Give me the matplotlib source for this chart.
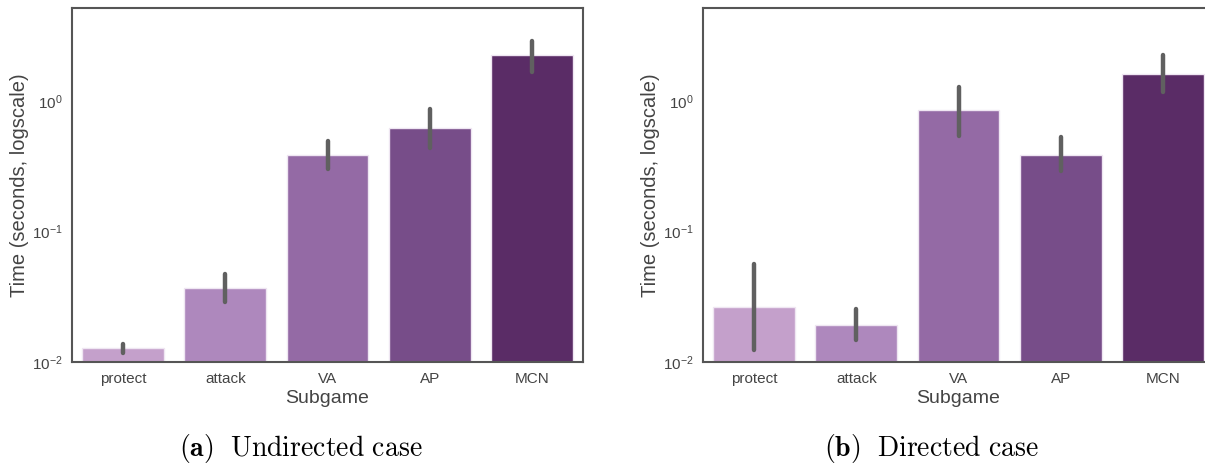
import matplotlib
matplotlib.use("Agg")
import matplotlib.pyplot as plt
import numpy as np

plt.rcParams["font.family"] = ["Liberation Sans", "DejaVu Sans"]
plt.rcParams["mathtext.fontset"] = "custom"
plt.rcParams["mathtext.rm"] = "Liberation Sans"
plt.rcParams["mathtext.it"] = "Liberation Sans:italic"
plt.rcParams["mathtext.bf"] = "Liberation Sans:bold"

subgames = ["protect", "attack", "VA", "AP", "MCN"]
colors = ["#c4a0cb", "#ae88bd", "#946aa5", "#774d89", "#5a2c66"]

# Mean solve times (seconds) with confidence interval bounds
undirected_mean = [0.0127, 0.037, 0.39, 0.62, 2.27]
undirected_lo = [0.0118, 0.029, 0.30, 0.44, 1.69]
undirected_hi = [0.0138, 0.0475, 0.50, 0.87, 2.91]

directed_mean = [0.0265, 0.0193, 0.86, 0.39, 1.62]
directed_lo = [0.0124, 0.0148, 0.54, 0.29, 1.17]
directed_hi = [0.056, 0.0256, 1.28, 0.53, 2.25]

captions = [("(a)", "Undirected case"), ("(b)", "Directed case")]

W, H = 1205, 465
fig = plt.figure(figsize=(W / 100, H / 100), dpi=100)

axes_px = [(72, 583), (703, 1214)]
top_px, bot_px = 8, 362

spine_col = "#555555"
text_col = "#444444"

panels = [(undirected_mean, undirected_lo, undirected_hi),
          (directed_mean, directed_lo, directed_hi)]

for (x0, x1), (mean, lo, hi) in zip(axes_px, panels):
    ax = fig.add_axes([x0 / W, (H - bot_px) / H, (x1 - x0) / W, (bot_px - top_px) / H])
    x = np.arange(len(subgames))
    ax.bar(x, mean, width=0.8, color=colors, edgecolor="#efe6f2", linewidth=1.0, zorder=2)
    ax.vlines(x, lo, hi, color="#606060", linewidth=3.2, zorder=3, capstyle="round")
    ax.set_yscale("log")
    ax.set_ylim(0.01, 5.2)
    ax.set_xlim(-0.5, len(subgames) - 0.5)
    ax.set_xticks(x)
    ax.set_xticklabels(subgames, fontsize=11, color=text_col)
    ax.yaxis.set_minor_locator(matplotlib.ticker.NullLocator())
    ax.set_yticks([0.01, 0.1, 1])
    ax.set_yticklabels([r"$10^{-2}$", r"$10^{-1}$", r"$10^{0}$"], fontsize=11, color=text_col)
    ax.tick_params(length=0, pad=7)
    ax.set_xlabel("Subgame", fontsize=14, color=text_col, labelpad=3)
    ax.set_ylabel("Time (seconds, logscale)", fontsize=14.5, color=text_col, labelpad=2)
    for s in ax.spines.values():
        s.set_color(spine_col)
        s.set_linewidth(1.5)

cap_centers = [301, 931]
for cx, (tag, text) in zip(cap_centers, captions):
    label = r"$\mathbf{" + tag + r"}\ \ \mathrm{" + text.replace(" ", r"\ ") + r"}$"
    fig.text(cx / W, 1 - 448 / H, label,
             ha="center", va="center", fontsize=20, math_fontfamily="cm")

fig.savefig("out.png", dpi=100)
